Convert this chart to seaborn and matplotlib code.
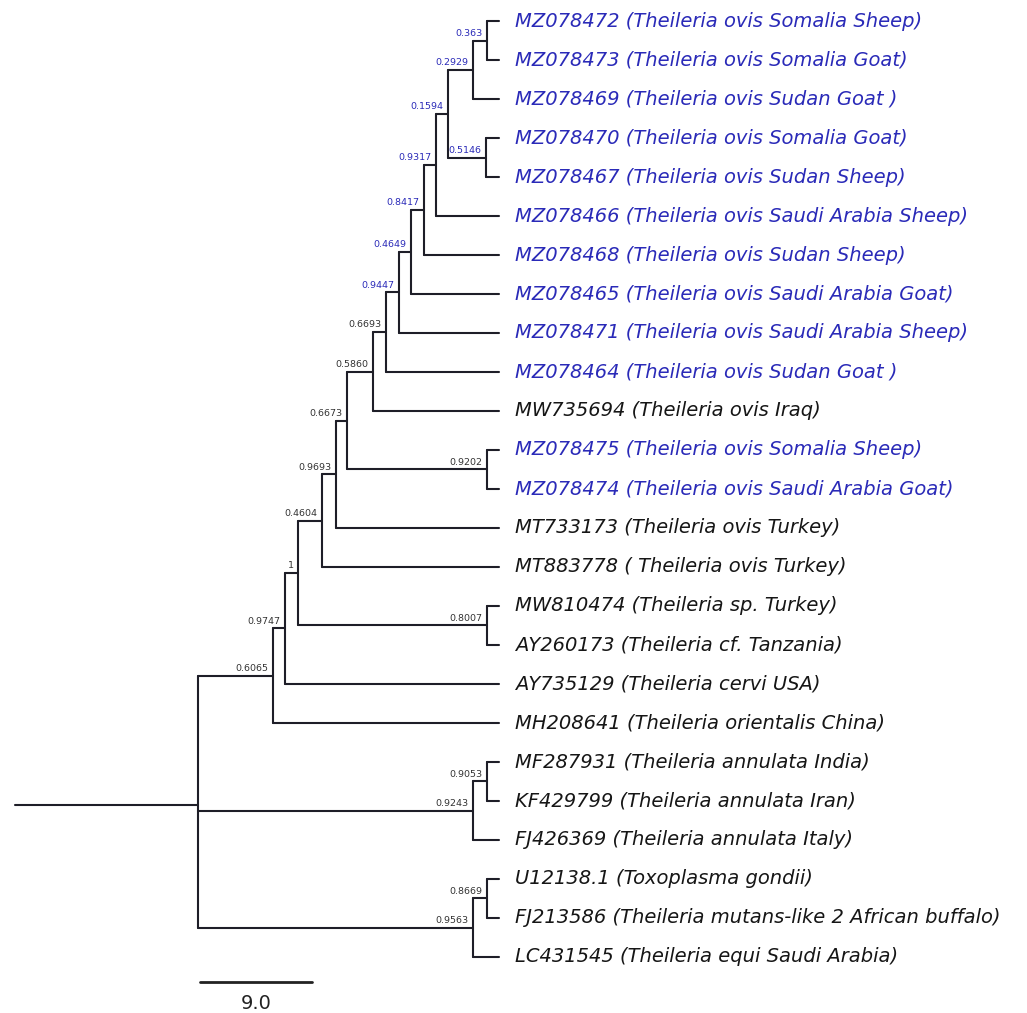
import pandas as pd
import matplotlib
matplotlib.use("Agg")
import matplotlib.pyplot as plt
import seaborn as sns

# leaves, top to bottom
leaf_names = [
    "MZ078472 (Theileria ovis Somalia Sheep)",
    "MZ078473 (Theileria ovis Somalia Goat)",
    "MZ078469 (Theileria ovis Sudan Goat )",
    "MZ078470 (Theileria ovis Somalia Goat)",
    "MZ078467 (Theileria ovis Sudan Sheep)",
    "MZ078466 (Theileria ovis Saudi Arabia Sheep)",
    "MZ078468 (Theileria ovis Sudan Sheep)",
    "MZ078465 (Theileria ovis Saudi Arabia Goat)",
    "MZ078471 (Theileria ovis Saudi Arabia Sheep)",
    "MZ078464 (Theileria ovis Sudan Goat )",
    "MW735694 (Theileria ovis Iraq)",
    "MZ078475 (Theileria ovis Somalia Sheep)",
    "MZ078474 (Theileria ovis Saudi Arabia Goat)",
    "MT733173 (Theileria ovis Turkey)",
    "MT883778 ( Theileria ovis Turkey)",
    "MW810474 (Theileria sp. Turkey)",
    "AY260173 (Theileria cf. Tanzania)",
    "AY735129 (Theileria cervi USA)",
    "MH208641 (Theileria orientalis China)",
    "MF287931 (Theileria annulata India)",
    "KF429799 (Theileria annulata Iran)",
    "FJ426369 (Theileria annulata Italy)",
    "U12138.1 (Toxoplasma gondii)",
    "FJ213586 (Theileria mutans-like 2 African buffalo)",
    "LC431545 (Theileria equi Saudi Arabia)",
]
leaf_parent = ["n363", "n363", "n2929", "n5146", "n5146", "n9317", "n8417", "n4649",
               "n9447", "n6693", "n5860", "n9202", "n9202", "n9693", "n4604", "n8007",
               "n8007", "n9747", "n6065", "n9053", "n9053", "n9243", "n8669", "n8669",
               "n9563"]
leaf_length = [0.97, 0.97, 2.09, 1.05, 1.05, 5.07, 6.03, 7.08, 8.04, 9.09, 10.13,
               0.97, 0.97, 13.11, 14.23, 0.97, 0.97, 17.21, 18.17, 0.97, 0.97, 2.09,
               0.97, 0.97, 2.09]

# internal nodes
node_ids = ["root", "n6065", "n9747", "n1", "n4604", "n9693", "n6673", "n5860",
            "n6693", "n9447", "n4649", "n8417", "n9317", "n1594", "n2929", "n363",
            "n5146", "n9202", "n8007", "n9243", "n9053", "n9563", "n8669"]
node_parent = [None, "root", "n6065", "n9747", "n1", "n4604", "n9693", "n6673",
               "n5860", "n6693", "n9447", "n4649", "n8417", "n9317", "n1594", "n2929",
               "n1594", "n6673", "n1", "root", "n9243", "root", "n9563"]
node_length = [14.7, 6.03, 0.96, 1.05, 1.93, 1.12, 0.89, 2.09, 1.04, 1.05, 0.96, 1.05,
               0.96, 0.97, 2.01, 1.12, 3.05, 11.25, 15.19, 22.11, 1.12, 22.11, 1.12]
node_support = ["", "0.6065", "0.9747", "1", "0.4604", "0.9693", "0.6673", "0.5860",
                "0.6693", "0.9447", "0.4649", "0.8417", "0.9317", "0.1594", "0.2929",
                "0.363", "0.5146", "0.9202", "0.8007", "0.9243", "0.9053", "0.9563",
                "0.8669"]
blue_support = ["n9447", "n4649", "n8417", "n9317", "n1594", "n2929", "n363", "n5146"]

scale_bar = 9.0

BLUE = "#2a2ab8"
BLACK = "#161616"

# ---- layout: x from branch lengths, y from leaf order ----
parent = dict(zip(node_ids, node_parent))
length = dict(zip(node_ids, node_length))
for nm, p, l in zip(leaf_names, leaf_parent, leaf_length):
    parent[nm] = p
    length[nm] = l

xpos = {"root": 0.0}
def get_x(n):
    if n not in xpos:
        xpos[n] = get_x(parent[n]) + length[n]
    return xpos[n]
for n in list(parent):
    get_x(n)

children = {n: [] for n in node_ids}
for n in node_ids[1:] + leaf_names:
    children[parent[n]].append(n)

ypos = {nm: i for i, nm in enumerate(leaf_names)}
def get_y(n):
    if n not in ypos:
        ys = [get_y(c) for c in children[n]]
        ypos[n] = sum(ys) / len(ys)
    return ypos[n]
get_y("root")

# segments table
rows = []
seg = 0
for n in node_ids[1:] + leaf_names:
    p = parent[n]
    rows += [(seg, xpos[p], ypos[n]), (seg, xpos[n], ypos[n])]
    seg += 1
for n in node_ids:
    ys = [ypos[c] for c in children[n]]
    rows += [(seg, xpos[n], min(ys)), (seg, xpos[n], max(ys))]
    seg += 1
rows += [(seg, -length["root"], ypos["root"]), (seg, 0.0, ypos["root"])]
seg += 1
segs = pd.DataFrame(rows, columns=["seg", "x", "y"])

sns.set_style("white")
fig = plt.figure(figsize=(10.27, 10.13), dpi=100)
ax = fig.add_axes([0, 0, 1, 1])

sns.lineplot(data=segs, x="x", y="y", units="seg", estimator=None, sort=False,
             color="#1e1e28", linewidth=1.5, ax=ax)

# scale bar
bar_y = 24.64
sb = pd.DataFrame({"x": [0.15, 0.15 + scale_bar], "y": [bar_y, bar_y]})
sns.lineplot(data=sb, x="x", y="y", color="#222222", linewidth=2, ax=ax)
ax.text(0.15 + scale_bar / 2, bar_y + 0.55, f"{scale_bar:.1f}", ha="center",
        va="center", fontsize=14, color="#222222")

# leaf labels
for nm in leaf_names:
    ax.text(xpos[nm] + 1.3, ypos[nm], nm, ha="left", va="center", fontsize=14,
            style="italic", color=BLUE if nm.startswith("MZ") else BLACK)

# support values
for n, s in zip(node_ids, node_support):
    if s:
        ax.text(xpos[n] - 0.35, ypos[n] - 0.07, s, ha="right", va="bottom",
                fontsize=6.8, color=BLUE if n in blue_support else "#333333")

ax.set_xlim(-15.92, 66.64)
ax.set_ylim(25.44, -0.54)
ax.axis("off")

fig.savefig("out.png", dpi=100)
